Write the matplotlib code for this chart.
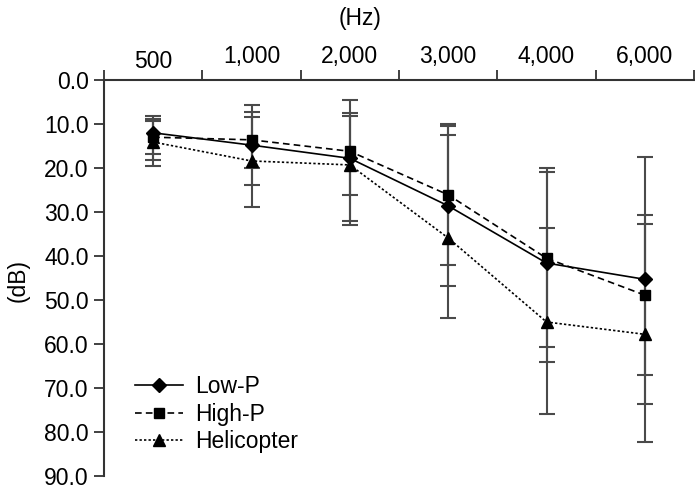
import matplotlib
matplotlib.use("Agg")
import matplotlib.pyplot as plt
import matplotlib.transforms as mtransforms
import numpy as np

plt.rcParams['font.family'] = ['Liberation Sans', 'DejaVu Sans']

categories = ["500", "1,000", "2,000", "3,000", "4,000", "6,000"]
y_ticks = [0, 10, 20, 30, 40, 50, 60, 70, 80, 90]

low_p_mean = [12.0, 14.8, 17.8, 28.6, 41.6, 45.3]
low_p_lo = [8.2, 5.7, 4.5, 10.0, 20.1, 17.4]
low_p_hi = [16.8, 23.9, 32.0, 46.8, 64.1, 73.7]

high_p_mean = [13.0, 13.6, 16.2, 26.1, 40.5, 48.9]
high_p_lo = [8.9, 7.3, 8.2, 10.5, 20.8, 30.7]
high_p_hi = [18.2, 19.9, 26.1, 42.0, 60.7, 67.0]

heli_mean = [14.1, 18.4, 19.3, 35.9, 55.0, 57.8]
heli_lo = [9.3, 8.4, 7.5, 12.5, 33.6, 32.8]
heli_hi = [19.5, 28.9, 32.9, 54.1, 75.9, 82.2]

FS = 16.5

fig = plt.figure(figsize=(6.95, 4.90), dpi=100)
ax = fig.add_axes([104/695, 14/490, 590/695, 396/490])

x = np.arange(len(categories)) + 0.5
series = [
    ("Low-P", low_p_mean, low_p_lo, low_p_hi, '-', 'D', 7.5),
    ("High-P", high_p_mean, high_p_lo, high_p_hi, (0, (4, 2.5)), 's', 7),
    ("Helicopter", heli_mean, heli_lo, heli_hi, (0, (1.4, 1.3)), '^', 8.5),
]

ecol = '#4a4a4a'
for name, m, lo, hi, ls, mk, ms in series:
    m = np.array(m); lo = np.array(lo); hi = np.array(hi)
    ax.errorbar(x, m, yerr=[m - lo, hi - m], fmt='none', ecolor=ecol,
                elinewidth=1.5, capsize=6, capthick=1.5, zorder=2)

handles = []
for name, m, lo, hi, ls, mk, ms in series:
    h, = ax.plot(x, m, linestyle=ls, color='black', lw=1.2, marker=mk,
                 markersize=ms, markerfacecolor='black', markeredgecolor='black',
                 label=name, zorder=3)
    handles.append(h)

ax.set_xlim(0, len(categories))
ax.set_ylim(90, 0)
ax.set_yticks(y_ticks)
ax.set_yticklabels([f"{v:.1f}" for v in y_ticks])

ax.xaxis.tick_top()
ax.set_xticks(np.arange(0, len(categories) + 1))
ax.set_xticklabels([])
ax.set_xticks(x, minor=True)
ax.set_xticklabels(categories, minor=True)
ax.tick_params(axis='x', which='minor', length=0, pad=9, labelsize=FS, top=True, labeltop=True)
ax.tick_params(axis='x', which='major', length=7, width=1.3, color='#333333', direction='out')
ax.tick_params(axis='y', length=7, width=1.3, color='#333333', labelsize=FS, pad=4, direction='out')

# the "500" label sits slightly lower in the reference
lbl = ax.xaxis.get_minorticklabels()[0]
lbl.set_transform(lbl.get_transform() + mtransforms.ScaledTranslation(0, -5/100, fig.dpi_scale_trans))

for s in ['right', 'bottom']:
    ax.spines[s].set_visible(False)
for s in ['left', 'top']:
    ax.spines[s].set_linewidth(1.5)
    ax.spines[s].set_color('#333333')

fig.text(360/695, 1 - 18/490, "(Hz)", ha='center', va='center', fontsize=FS)
fig.text(18/695, 1 - 280/490, "(dB)", ha='center', va='center', rotation=90, fontsize=FS)

leg = ax.legend(handles=handles, loc='upper left', bbox_to_anchor=(0.052, 0.255),
                frameon=False, fontsize=FS, handlelength=2.1, handletextpad=0.55,
                labelspacing=0.2, borderaxespad=0, borderpad=0)

fig.savefig("out.png", dpi=100)
